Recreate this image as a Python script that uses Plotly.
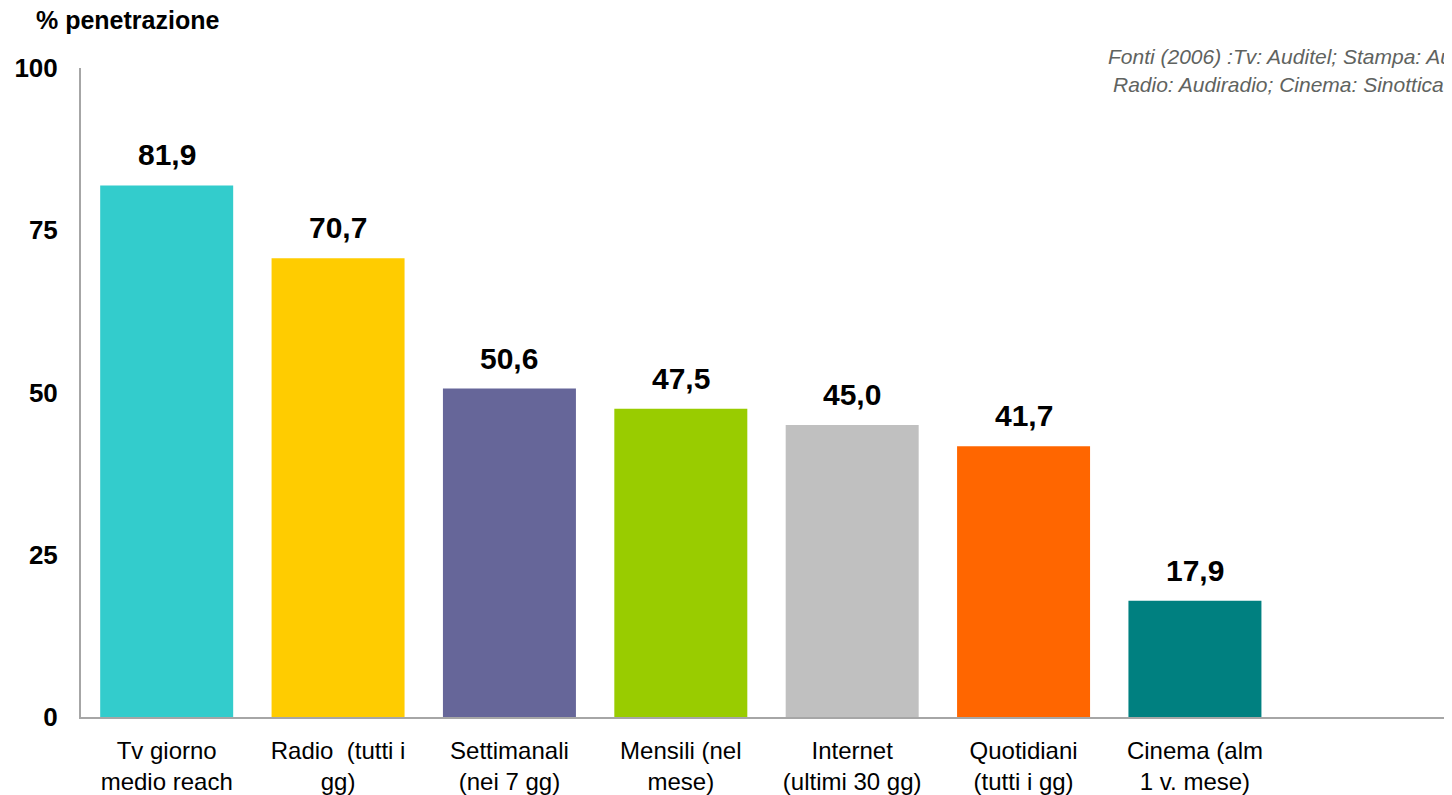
import plotly.graph_objects as go

categories = ["Tv giorno<br>medio reach", "Radio  (tutti i<br>gg)", "Settimanali<br>(nei 7 gg)",
              "Mensili (nel<br>mese)", "Internet<br>(ultimi 30 gg)", "Quotidiani<br>(tutti i gg)",
              "Cinema (alm<br>1 v. mese)", " "]
values = [81.9, 70.7, 50.6, 47.5, 45.0, 41.7, 17.9, None]
colors = ["#33CCCC", "#FFCC00", "#666699", "#99CC00", "#C0C0C0", "#FF6600", "#008080", "#FFFFFF"]
y_ticks = [0, 25, 50, 75, 100]

FONT = "Liberation Sans, Arial, sans-serif"

fig = go.Figure()
fig.add_trace(go.Bar(x=categories, y=values, marker=dict(color=colors, line=dict(width=0)),
                     hoverinfo="skip"))

for c, v in zip(categories, values):
    if v is None:
        continue
    fig.add_annotation(x=c, y=v, text=f"{v:.1f}".replace(".", ","), showarrow=False,
                       yanchor="bottom", yshift=12,
                       font=dict(family=FONT, size=30, color="#000000", weight="bold"))

fig.add_annotation(xref="paper", yref="paper", x=-0.0345, y=1.074, xanchor="left", yanchor="middle",
                   text="<b>% penetrazione</b>", showarrow=False,
                   font=dict(family=FONT, size=25, color="#000000"))
fig.add_annotation(xref="paper", yref="paper", x=0.7475, y=1.017, xanchor="left", yanchor="middle",
                   text="<i>Fonti (2006) :Tv: Auditel; Stampa: Audipress; Internet: Nielsen</i>",
                   showarrow=False, font=dict(family=FONT, size=21, color="#5F6360"))
fig.add_annotation(xref="paper", yref="paper", x=0.7512, y=0.974, xanchor="left", yanchor="middle",
                   text="<i>Radio: Audiradio; Cinema: Sinottica</i>",
                   showarrow=False, font=dict(family=FONT, size=21, color="#5F6360"))

fig.update_layout(
    width=1444, height=787,
    margin=dict(l=73, r=0, t=60, b=78),
    plot_bgcolor="#FFFFFF", paper_bgcolor="#FFFFFF",
    bargap=0.224, showlegend=False,
    font=dict(family=FONT, color="#000000"),
    xaxis=dict(type="category", categoryorder="array", categoryarray=categories,
               range=[-0.5, 7.5], showline=True, linecolor="#A6A6A6", linewidth=2,
               ticks="", showgrid=False, tickfont=dict(family=FONT, size=24, color="#000000"),
               ticklabelstandoff=11),
    yaxis=dict(range=[0, 100], tickvals=y_ticks, showline=True, linecolor="#A6A6A6", linewidth=2,
               ticks="", showgrid=False, zeroline=False,
               tickfont=dict(family=FONT, size=26, color="#000000", weight="bold"),
               ticklabelstandoff=16),
)

fig.write_html("out.html")
